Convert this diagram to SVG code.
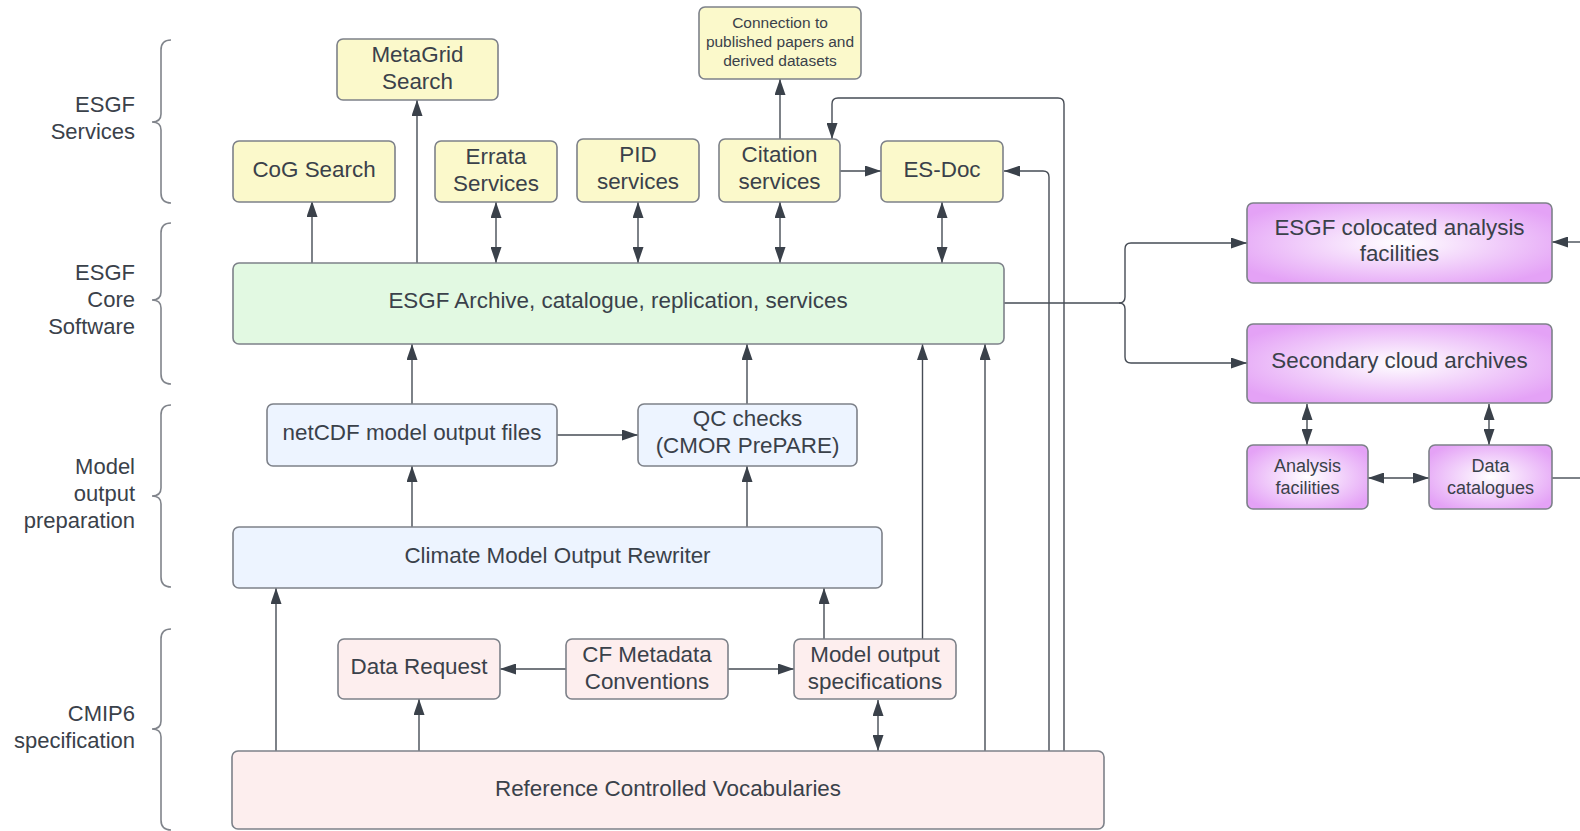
<svg xmlns="http://www.w3.org/2000/svg" width="1580" height="831" viewBox="0 0 1580 831">
<defs>
<style>
.box{stroke:#7d8189;stroke-width:1.6}
.y{fill:#fbf9cb}.g{fill:#e2f9e2}.b{fill:#edf4ff}.p{fill:#fdeeee}.u{fill:url(#pg)}
text{font-family:"Liberation Sans",Arial,sans-serif;fill:#3a414a;font-size:22.4px;text-anchor:middle}
.lab{text-anchor:end;font-size:22px}
.sm{font-size:15.5px}.md{font-size:18px}
.c{fill:none;stroke:#464c55;stroke-width:1.4}
.br{fill:none;stroke:#80848b;stroke-width:1.6}
.a{marker-end:url(#ah)}
.d{marker-start:url(#ah);marker-end:url(#ah)}
</style>
<radialGradient id="pg" cx="50%" cy="50%" r="60%">
<stop offset="0" stop-color="#ffffff"/>
<stop offset="1" stop-color="#e4a2f6"/>
</radialGradient>
<marker id="ah" markerUnits="userSpaceOnUse" markerWidth="17" markerHeight="11" refX="16" refY="5.5" orient="auto-start-reverse" viewBox="0 0 17 11">
<path d="M0,0 L16,5.5 L0,11 z" fill="#3a414a"/>
</marker>
</defs>

<g id="braces">
<path class="br" d="M171,40 Q161,40 161,50 V114 Q161,122 152,122 Q161,122 161,130 V193 Q161,203 171,203"/>
<path class="br" d="M171,223 Q161,223 161,233 V292 Q161,300 152,300 Q161,300 161,308 V374 Q161,384 171,384"/>
<path class="br" d="M171,405 Q161,405 161,415 V488 Q161,496 152,496 Q161,496 161,504 V577 Q161,587 171,587"/>
<path class="br" d="M171,629 Q161,629 161,639 V721 Q161,729 152,729 Q161,729 161,737 V820 Q161,830 171,830"/>
<text class="lab" x="135" y="112">ESGF</text>
<text class="lab" x="135" y="139">Services</text>
<text class="lab" x="135" y="280">ESGF</text>
<text class="lab" x="135" y="307">Core</text>
<text class="lab" x="135" y="334">Software</text>
<text class="lab" x="135" y="474">Model</text>
<text class="lab" x="135" y="501">output</text>
<text class="lab" x="135" y="528">preparation</text>
<text class="lab" x="135" y="721">CMIP6</text>
<text class="lab" x="135" y="748">specification</text>
</g>

<g id="connectors">
<path class="c a" d="M312,263 V201"/>
<path class="c a" d="M417,263 V100"/>
<path class="c d" d="M496,202 V263"/>
<path class="c d" d="M638,202 V263"/>
<path class="c d" d="M780,202 V263"/>
<path class="c d" d="M942,202 V263"/>
<path class="c a" d="M780,139 V79"/>
<path class="c a" d="M840,171 H881"/>
<path class="c a" d="M1064,751 V104 Q1064,98 1058,98 H838 Q832,98 832,104 V139"/>
<path class="c a" d="M1049,751 V177 Q1049,171 1043,171 H1004"/>
<path class="c a" d="M985,751 V344"/>
<path class="c a" d="M922.5,639 V344"/>
<path class="c a" d="M824,639 V588"/>
<path class="c d" d="M878,700 V751"/>
<path class="c a" d="M566,669 H500"/>
<path class="c a" d="M728,669 H794"/>
<path class="c a" d="M419,751 V699"/>
<path class="c a" d="M276,751 V588"/>
<path class="c a" d="M412,527 V466"/>
<path class="c a" d="M747,527 V466"/>
<path class="c a" d="M557,435 H638"/>
<path class="c a" d="M412,404 V344"/>
<path class="c a" d="M747,404 V344"/>
<path class="c" d="M1004,303 H1119 Q1125,303 1125,297"/>
<path class="c a" d="M1125,297 V249 Q1125,243 1131,243 H1247"/>
<path class="c" d="M1119,303 Q1125,303 1125,309"/>
<path class="c a" d="M1125,309 V357 Q1125,363 1131,363 H1247"/>
<path class="c d" d="M1307,404 V445"/>
<path class="c d" d="M1489,404 V445"/>
<path class="c d" d="M1368,478 H1429"/>
<path class="c a" d="M1580,242 H1552"/>
<path class="c" d="M1552,478 H1580"/>
</g>

<g id="metagrid"><rect class="box y" x="337" y="39" width="161" height="61" rx="6"/><text x="417.5" y="62">MetaGrid</text><text x="417.5" y="89">Search</text></g>
<g id="cog"><rect class="box y" x="233" y="141" width="162" height="61" rx="6"/><text x="314" y="177">CoG Search</text></g>
<g id="errata"><rect class="box y" x="435" y="141" width="122" height="61" rx="6"/><text x="496" y="164">Errata</text><text x="496" y="190.5">Services</text></g>
<g id="pid"><rect class="box y" x="577" y="139" width="122" height="63" rx="6"/><text x="638" y="162">PID</text><text x="638" y="189">services</text></g>
<g id="citation"><rect class="box y" x="719" y="139" width="121" height="63" rx="6"/><text x="779.5" y="162">Citation</text><text x="779.5" y="189">services</text></g>
<g id="esdoc"><rect class="box y" x="881" y="141" width="122" height="61" rx="6"/><text x="942" y="177">ES-Doc</text></g>
<g id="connection"><rect class="box y" x="699" y="7" width="162" height="72" rx="6"/><text class="sm" x="780" y="27.7">Connection to</text><text class="sm" x="780" y="46.8">published papers and</text><text class="sm" x="780" y="66">derived datasets</text></g>
<g id="archive"><rect class="box g" x="233" y="263" width="771" height="81" rx="6"/><text x="618" y="307.5">ESGF Archive, catalogue, replication, services</text></g>
<g id="netcdf"><rect class="box b" x="267" y="404" width="290" height="62" rx="6"/><text x="412" y="440">netCDF model output files</text></g>
<g id="qc"><rect class="box b" x="638" y="404" width="219" height="62" rx="6"/><text x="747.5" y="426">QC checks</text><text x="747.5" y="453">(CMOR PrePARE)</text></g>
<g id="cmor"><rect class="box b" x="233" y="527" width="649" height="61" rx="6"/><text x="557.5" y="562.5">Climate Model Output Rewriter</text></g>
<g id="datarequest"><rect class="box p" x="338" y="639" width="162" height="60" rx="6"/><text x="419" y="674">Data Request</text></g>
<g id="cf"><rect class="box p" x="566" y="639" width="162" height="60" rx="6"/><text x="647" y="661.5">CF Metadata</text><text x="647" y="688.5">Conventions</text></g>
<g id="specs"><rect class="box p" x="794" y="639" width="162" height="60" rx="6"/><text x="875" y="661.5">Model output</text><text x="875" y="688.5">specifications</text></g>
<g id="refcv"><rect class="box p" x="232" y="751" width="872" height="78" rx="6"/><text x="668" y="796">Reference Controlled Vocabularies</text></g>
<g id="colocated"><rect class="box u" x="1247" y="203" width="305" height="80" rx="6"/><text x="1399.5" y="234.5">ESGF colocated analysis</text><text x="1399.5" y="261">facilities</text></g>
<g id="secondary"><rect class="box u" x="1247" y="324" width="305" height="79" rx="6"/><text x="1399.5" y="368">Secondary cloud archives</text></g>
<g id="analysis"><rect class="box u" x="1247" y="445" width="121" height="64" rx="6"/><text class="md" x="1307.5" y="472">Analysis</text><text class="md" x="1307.5" y="494">facilities</text></g>
<g id="datacat"><rect class="box u" x="1429" y="445" width="123" height="64" rx="6"/><text class="md" x="1490.5" y="472">Data</text><text class="md" x="1490.5" y="494">catalogues</text></g>
</svg>
